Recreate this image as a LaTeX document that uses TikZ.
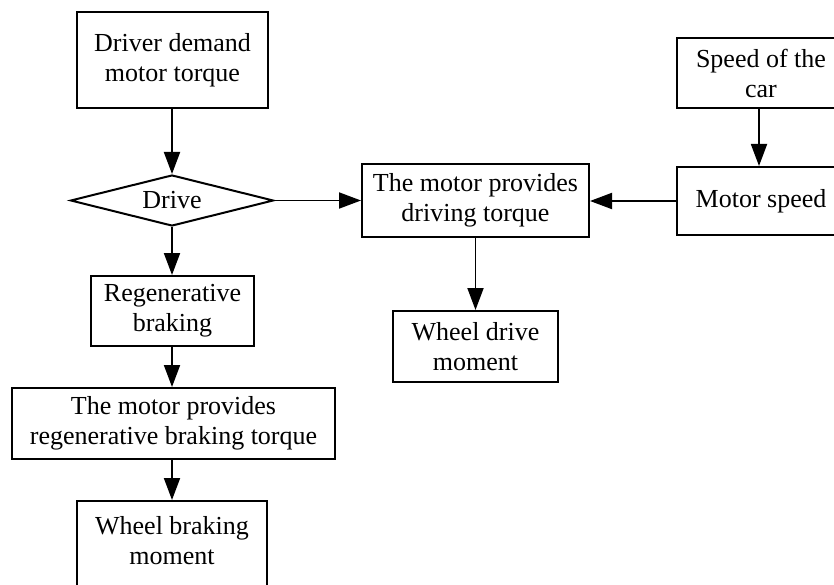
\documentclass[tikz,border=0pt]{standalone}
\usepackage{fontspec}
\setmainfont{Liberation Serif}
\usetikzlibrary{arrows.meta,shapes.geometric}
\begin{document}
\begin{tikzpicture}[x=1pt,y=-1pt,
  font=\fontsize{26}{30}\selectfont,
  box/.style={draw, line width=2pt, inner sep=0pt, align=center},
  txt/.style={inner sep=0pt, align=center},
  arr/.style={line width=1.9pt, -{Triangle[length=22pt,width=16pt]}}]
\useasboundingbox (0,0) rectangle (834,585);
\clip (0,0) rectangle (834,585);
% left column
\node[box, minimum width=191, minimum height=96] (dd) at (172.5,60) {Driver demand\\motor torque};
\node[draw, line width=2pt, shape=diamond, aspect=4, inner sep=0pt,
      minimum width=203, minimum height=51] (dr) at (172,200.5) {Drive};
\node[box, minimum width=163, minimum height=70] (rb) at (172.5,311) {Regenerative\\braking};
\node[box, minimum width=323, minimum height=71] (mr) at (173.5,423.5) {The motor provides\\regenerative braking torque};
\node[box, minimum width=190, minimum height=110, anchor=north] (wb) at (172,500) {};
\node[txt] (wbt) at (172,541) {Wheel braking\\moment};
% middle column
\node[box, minimum width=227, minimum height=73] (dt) at (475.5,200.5) {The motor provides\\driving torque};
\node[box, minimum width=165, minimum height=71] (wd) at (475.5,346.5) {Wheel drive\\moment};
% right column (cut by the picture edge)
\node[box, minimum width=168, minimum height=70] (sc) at (761,73) {Speed of the\\car};
\node[box, minimum width=168, minimum height=68] (ms) at (761,201) {Motor speed};
% connectors
\draw[arr] (dd.south -| dr.north) -- (dr.north);
\draw[arr] (dr.south) -- (rb.north -| dr.south);
\draw[arr] (rb.south -| dr.south) -- (mr.north -| dr.south);
\draw[arr] (mr.south -| wb.north) -- (wb.north);
\draw[arr] (dr.east) -- (dt.west |- dr.east);
\draw[arr] (ms.west) -- (dt.east |- ms.west);
\draw[arr] (dt.south) -- (wd.north);
\draw[arr] (sc.south -| 759,0) -- (ms.north -| 759,0);
\end{tikzpicture}
\end{document}
